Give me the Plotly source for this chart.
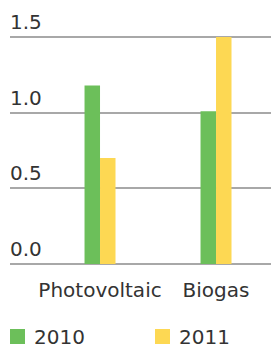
import plotly.graph_objects as go

categories = ["Photovoltaic", "Biogas"]
series_names = ["2010", "2011"]
values_2010 = [1.18, 1.01]
values_2011 = [0.70, 1.50]
y_ticks = [0.0, 0.5, 1.0, 1.5]
y_tick_labels = ["0.0", "0.5", "1.0", "1.5"]

colors = ["#6cbf5a", "#fdd853"]
FONT = "DejaVu Sans"
TXT = "#333333"
FS = 20

fig = go.Figure()
for name, vals, col in zip(series_names, [values_2010, values_2011], colors):
    fig.add_trace(go.Bar(x=[0, 1], y=vals, name=name, marker_color=col,
                         marker_line_width=0, showlegend=False))

fig.update_layout(
    width=271, height=353,
    margin=dict(l=10, r=0, t=34, b=86, autoexpand=False),
    plot_bgcolor="white", paper_bgcolor="white",
    barmode="group", bargap=0.733, bargroupgap=0,
    font=dict(family=FONT, color=TXT, size=FS),
    showlegend=False,
    xaxis=dict(range=[-0.776, 1.474], tickmode="array", tickvals=[0, 1],
               ticktext=categories, showgrid=False, zeroline=False,
               showline=False, ticks="outside", ticklen=5, tickcolor="rgba(0,0,0,0)",
               automargin=False,
               tickfont=dict(size=FS, family=FONT, color=TXT)),
    yaxis=dict(range=[-0.02, 1.52], tickmode="array", tickvals=y_ticks,
               showticklabels=False, showgrid=True, gridcolor="#a8a8a8",
               gridwidth=2, zeroline=False, showline=False, automargin=False),
)

# y tick labels above gridlines
for tv, tl in zip(y_ticks, y_tick_labels):
    fig.add_annotation(x=0, xref="paper", y=tv, yref="y", text=tl,
                       showarrow=False, xanchor="left", yanchor="bottom",
                       xshift=-2, yshift=1, font=dict(size=FS, family=FONT, color=TXT))

# custom legend
PH = 233.0
def py(pix):
    return (267 - pix) / PH

legend_x = [0.0, 145 / 261]
for name, col, lx in zip(series_names, colors, legend_x):
    fig.add_shape(type="rect", xref="paper", yref="paper",
                  x0=lx, x1=lx + 15 / 261, y0=py(329), y1=py(344),
                  fillcolor=col, line_width=0)
    fig.add_annotation(x=lx + 22 / 261, xref="paper", y=py(336.5), yref="paper",
                       text=name, showarrow=False, xanchor="left", yanchor="middle",
                       font=dict(size=FS, family=FONT, color=TXT))
fig.write_html("out.html", config={"displayModeBar": False},
               post_script="document.body.style.margin='0';document.body.style.overflow='hidden';")
